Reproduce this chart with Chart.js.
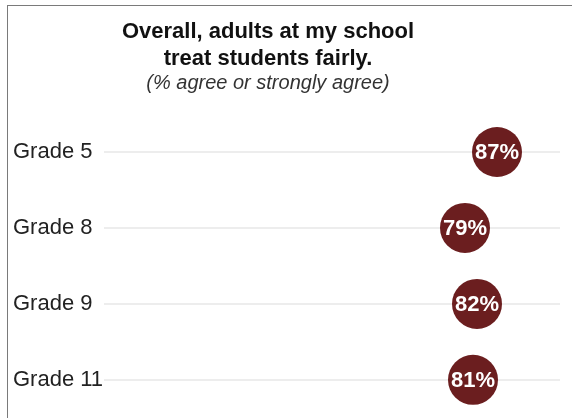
<!DOCTYPE html>
<html lang="en">
<head>
    <meta charset="UTF-8">
    <title>Adults treat students fairly</title>
    <script src="https://cdn.jsdelivr.net/npm/chart.js"></script>
    <style>
        body {
            margin: 0;
            width: 572px;
            height: 418px;
            overflow: hidden;
            background: #ffffff;
            font-family: 'Liberation Sans', Arial, sans-serif;
        }
        .frame {
            position: absolute;
            left: 7px;
            top: 5px;
            width: 600px;
            height: 500px;
            border-left: 1px solid #7a7a7a;
            border-top: 1px solid #7a7a7a;
        }
        .titles {
            position: absolute;
            left: 0;
            top: 17px;
            width: 536px;
            text-align: center;
            color: #111;
            z-index: 2;
        }
        .titles h1 {
            margin: 0;
            font-size: 22px;
            line-height: 27px;
            font-weight: bold;
        }
        .titles p {
            margin: 0;
            font-size: 20px;
            line-height: 23px;
            font-style: italic;
            color: #333;
        }
        /* taller than the window: the bottom label padding falls outside */
        .chart-box {
            position: absolute;
            left: 8px;
            top: 6px;
            width: 564px;
            height: 425px;
        }
    </style>
</head>
<body>
    <div class="frame"></div>
    <div class="titles">
        <h1>Overall, adults at my school<br>treat students fairly.</h1>
        <p>(% agree or strongly agree)</p>
    </div>
    <div class="chart-box">
        <canvas id="fairChart"></canvas>
    </div>

    <script>
        const grades = ['Grade 5', 'Grade 8', 'Grade 9', 'Grade 11'];
        const agreePct = [87, 79, 82, 81];

        const dotColor = '#6b1e1f';

        // writes the percentage inside each dot
        const dotLabels = {
            id: 'dotLabels',
            afterDatasetsDraw(chart) {
                const ctx = chart.ctx;
                const meta = chart.getDatasetMeta(0);
                ctx.save();
                ctx.fillStyle = '#ffffff';
                ctx.font = 'bold 22px "Liberation Sans", Arial, sans-serif';
                ctx.textAlign = 'center';
                ctx.textBaseline = 'middle';
                meta.data.forEach((pt, i) => {
                    ctx.fillText(agreePct[i] + '%', pt.x, pt.y + 1);
                });
                ctx.restore();
            }
        };

        new Chart(document.getElementById('fairChart'), {
            type: 'line',
            data: {
                labels: grades,
                datasets: [{
                    data: agreePct,
                    showLine: false,
                    clip: false,
                    pointRadius: 25,
                    pointHoverRadius: 25,
                    pointBackgroundColor: dotColor,
                    pointBorderColor: dotColor,
                    pointBorderWidth: 0
                }]
            },
            options: {
                indexAxis: 'y',
                responsive: true,
                maintainAspectRatio: false,
                animation: false,
                layout: {
                    autoPadding: false,
                    padding: { top: 108, left: 5, right: 12, bottom: 0 }
                },
                scales: {
                    x: {
                        display: false,
                        min: -11.25,
                        max: 102.75
                    },
                    y: {
                        type: 'category',
                        offset: true,
                        border: { display: false },
                        grid: {
                            color: '#ededed',
                            lineWidth: 2,
                            drawTicks: false
                        },
                        ticks: {
                            crossAlign: 'far',
                            padding: 0,
                            color: '#222',
                            font: { size: 22, family: "'Liberation Sans', Arial, sans-serif" }
                        },
                        afterFit(scale) {
                            scale.width = 91;
                        }
                    }
                },
                plugins: {
                    legend: { display: false },
                    tooltip: { enabled: false }
                }
            },
            plugins: [dotLabels]
        });
    </script>
</body>
</html>
